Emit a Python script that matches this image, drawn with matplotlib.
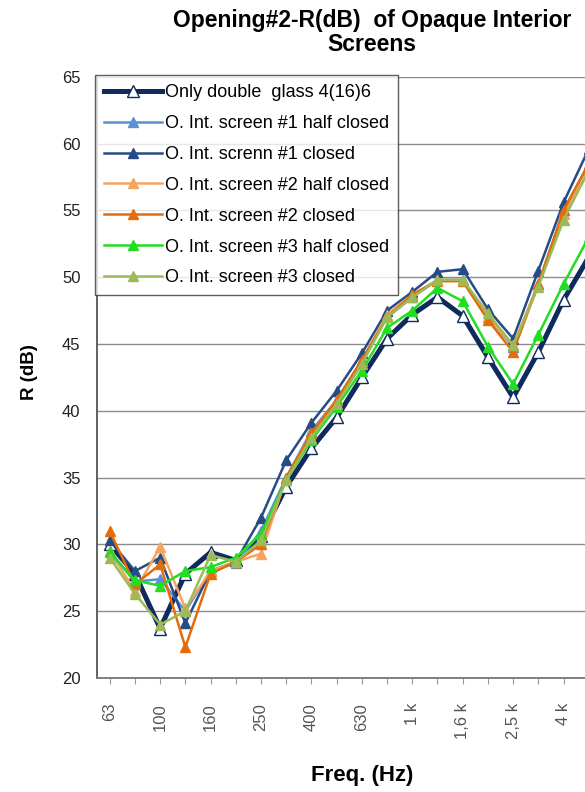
import matplotlib
matplotlib.use("Agg")
import matplotlib.pyplot as plt

freqs = ["63", "80", "100", "125", "160", "200", "250", "315", "400", "500",
         "630", "800", "1 k", "1,25 k", "1,6 k", "2 k", "2,5 k", "3,15 k", "4 k", "5 k"]
shown = {"63", "100", "160", "250", "400", "630", "1 k", "1,6 k", "2,5 k", "4 k"}

only_glass = [30.0, 27.8, 23.7, 27.8, 29.4, 28.8, 30.6, 34.3, 37.2, 39.5,
              42.5, 45.4, 47.2, 48.5, 47.1, 44.0, 41.0, 44.4, 48.3, 51.5]
s1_half = [29.5, 27.2, 27.4, 25.0, 28.0, 28.6, 31.0, 35.0, 38.5, 40.8,
           43.8, 47.0, 48.5, 49.8, 49.8, 47.0, 44.8, 49.5, 55.0, 58.5]
s1_closed = [30.3, 28.0, 29.0, 24.1, 28.0, 28.7, 32.0, 36.3, 39.1, 41.5,
             44.3, 47.5, 48.9, 50.4, 50.6, 47.6, 45.4, 50.5, 55.6, 59.6]
s2_half = [29.5, 26.5, 29.8, 25.2, 28.0, 28.7, 29.3, 35.0, 38.3, 40.8,
           43.7, 47.2, 48.7, 49.8, 49.8, 47.0, 44.9, 49.5, 54.7, 58.0]
s2_closed = [31.0, 27.0, 28.5, 22.3, 27.8, 28.7, 30.0, 35.0, 38.3, 40.8,
             43.8, 47.0, 48.7, 49.7, 49.7, 46.8, 44.4, 49.5, 55.0, 58.5]
s3_half = [29.4, 27.3, 26.9, 28.0, 28.3, 29.0, 30.8, 34.8, 37.8, 40.3,
           43.0, 46.2, 47.5, 49.2, 48.2, 44.8, 42.0, 45.7, 49.5, 53.0]
s3_closed = [29.0, 26.3, 24.0, 25.0, 29.2, 28.7, 30.3, 34.8, 38.0, 40.5,
             43.5, 47.0, 48.5, 49.8, 49.8, 47.3, 44.9, 49.3, 54.3, 58.0]

labels = ["Only double  glass 4(16)6", "O. Int. screen #1 half closed",
          "O. Int. screnn #1 closed", "O. Int. screen #2 half closed",
          "O. Int. screen #2 closed", "O. Int. screen #3 half closed",
          "O. Int. screen #3 closed"]
series = [only_glass, s1_half, s1_closed, s2_half, s2_closed, s3_half, s3_closed]
colors = ["#0f2b5e", "#5b8fd6", "#254c86", "#f7a55e", "#e46c0a", "#22dd22", "#9bbb59"]

plt.rcParams['font.family'] = ['Liberation Sans', 'DejaVu Sans']

fig = plt.figure(figsize=(5.85, 7.92), dpi=100)
ax = fig.add_axes([0.166, 0.144, 0.862, 0.759])

x = list(range(len(freqs)))
for i, (vals, lab, col) in enumerate(zip(series, labels, colors)):
    if i == 0:
        ax.plot(x, vals, color=col, lw=3.6, marker='^', ms=8.5, mfc='white',
                mec=col, mew=1.0, label=lab, zorder=2)
    else:
        ax.plot(x, vals, color=col, lw=1.8, marker='^', ms=6.5, mfc=col,
                mec=col, label=lab, zorder=3)

ax.set_xlim(-0.5, len(freqs) - 0.5)
ax.set_ylim(20, 65)
ax.set_yticks(range(20, 66, 5))
ax.yaxis.grid(True, color='#8c8c8c', lw=1.0)
ax.set_axisbelow(True)
ax.set_xticks(x)
ax.set_xticklabels([f if f in shown else "" for f in freqs], rotation=90,
                   fontsize=12, color='#555555')
ax.tick_params(axis='x', length=4, color='#999999', pad=14)
ax.tick_params(axis='y', length=0, labelsize=12, pad=12, labelcolor='#222222')
for s in ['top', 'right']:
    ax.spines[s].set_visible(False)
ax.spines['left'].set_color('#555555')
ax.spines['bottom'].set_color('#777777')
ax.spines['left'].set_linewidth(1.3)
ax.spines['bottom'].set_linewidth(1.3)

leg = fig.legend(loc='upper left', bbox_to_anchor=(95/585, 1 - 75/792),
                 fontsize=13, frameon=True, fancybox=False, edgecolor='#333333',
                 handlelength=3.2, handletextpad=0.17, labelspacing=0.77,
                 borderaxespad=0, borderpad=0.5)
leg.get_frame().set_linewidth(1.0)

fig.text(372/585, 1 - 9/792, "Opening#2-R(dB)  of Opaque Interior\nScreens",
         ha='center', va='top', fontsize=16.5, fontweight='bold', linespacing=1.05)
fig.text(30/585, 1 - 372/792, "R (dB)", rotation=90, ha='center', va='center',
         fontsize=13.5, fontweight='bold')
fig.text(362/585, 1 - 775/792, "Freq. (Hz)", ha='center', va='center',
         fontsize=16, fontweight='bold')

fig.savefig("out.png", dpi=100)
